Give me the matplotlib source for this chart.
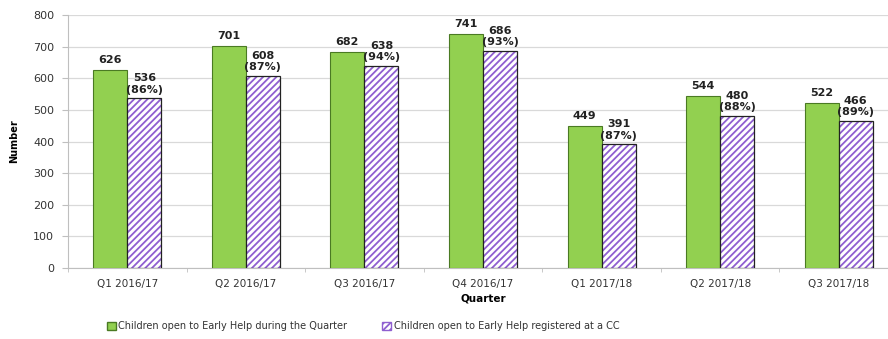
import numpy as np
import matplotlib.pyplot as plt
from matplotlib.patches import Patch

quarters = ['Q1 2016/17', 'Q2 2016/17', 'Q3 2016/17', 'Q4 2016/17',
            'Q1 2017/18', 'Q2 2017/18', 'Q3 2017/18']
open_eh = [626, 701, 682, 741, 449, 544, 522]
registered_cc = [536, 608, 638, 686, 391, 480, 466]
pct_cc = [86, 87, 94, 93, 87, 88, 89]

green = '#92d050'
purple = '#8f5fd0'

plt.rcParams['hatch.linewidth'] = 1.3

fig = plt.figure(figsize=(8.88, 3.39), dpi=100)
# chart is cropped on the right in the original, so the axes run past the edge
ax = fig.add_axes([68 / 888, 71 / 339, 830 / 888, 253 / 339])

x = np.arange(len(quarters))
w = 0.287

ax.bar(x - w / 2, open_eh, w, color=green, edgecolor='#4a7a23', linewidth=0.8, zorder=3)
# hatched bars: purple hatch first, then a black outline on top
ax.bar(x + w / 2, registered_cc, w, color='white', edgecolor=purple, hatch='/////',
       linewidth=0, zorder=3)
ax.bar(x + w / 2, registered_cc, w, color='none', edgecolor='#222222', linewidth=0.9, zorder=4)

for i in range(len(quarters)):
    ax.text(x[i] - w / 2, open_eh[i] + 16, str(open_eh[i]), ha='center', va='bottom',
            fontsize=8, fontweight='bold', color='#222222')
    ax.text(x[i] + w / 2, registered_cc[i] + 12, f'{registered_cc[i]}\n({pct_cc[i]}%)',
            ha='center', va='bottom', fontsize=8, fontweight='bold', color='#222222',
            linespacing=1.15)

ax.set_xlim(-0.5, len(quarters) - 0.5)
ax.set_ylim(0, 800)
ax.set_yticks(range(0, 801, 100))
ax.set_xticks(x)
ax.set_xticklabels(quarters)
ax.set_xticks(np.arange(-0.5, len(quarters), 1), minor=True)
ax.tick_params(axis='x', which='major', length=0, pad=8, labelsize=7.5, labelcolor='#333333')
ax.tick_params(axis='x', which='minor', length=3, color='#bfbfbf')
ax.tick_params(axis='y', length=4, color='#bfbfbf', labelsize=8, labelcolor='#333333', pad=6)

ax.yaxis.grid(True, color='#d9d9d9', linewidth=0.9, zorder=0)
ax.set_axisbelow(True)
for s in ['top', 'right']:
    ax.spines[s].set_visible(False)
ax.spines['left'].set_color('#bfbfbf')
ax.spines['bottom'].set_color('#bfbfbf')

ax.set_ylabel('Number', fontsize=7, fontweight='bold', labelpad=10)
ax.set_xlabel('Quarter', fontsize=7.5, fontweight='bold', labelpad=3)

handles = [Patch(facecolor=green, edgecolor='#4a7a23'),
           Patch(facecolor='white', edgecolor=purple, hatch='/////')]
fig.legend(handles, ['Children open to Early Help during the Quarter',
                     'Children open to Early Help registered at a CC'],
           loc='center left', bbox_to_anchor=(98 / 888, 13 / 339), ncol=2,
           frameon=False, fontsize=7, handlelength=0.9, handleheight=0.9,
           handletextpad=0.3, columnspacing=3.6, labelcolor='#333333')

fig.savefig('out.png', dpi=100)
